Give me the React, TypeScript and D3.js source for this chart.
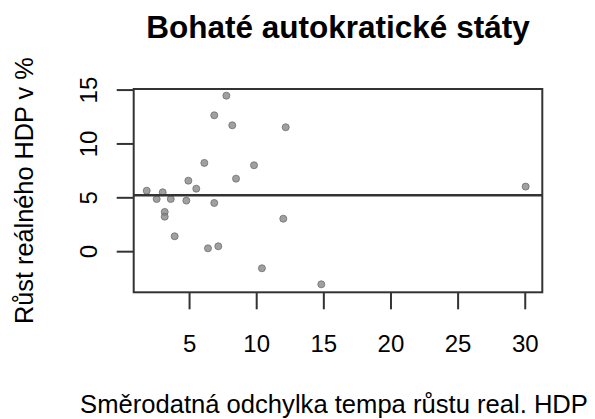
import React from "react";
import * as d3 from "d3";

const xValues = [1.81, 2.55, 3.0, 3.6, 3.15, 3.15, 3.89, 4.76, 4.91, 5.5, 6.1, 6.37, 6.84, 6.84, 7.14, 7.74, 8.18, 8.46, 9.8, 10.39, 11.98, 12.16, 14.81, 30.03];
const yValues = [5.66, 4.89, 5.51, 4.89, 3.69, 3.25, 1.43, 4.74, 6.59, 5.85, 8.24, 0.31, 12.66, 4.52, 0.5, 14.48, 11.73, 6.78, 8.02, -1.54, 3.06, 11.55, -3.03, 6.04];
const xTicks = [5, 10, 15, 20, 25, 30];
const yTicks = [0, 5, 10, 15];
const hLineValue = 5.24;
const xDomain = [0.84, 31.27];
const yDomain = [-3.77, 15.1];
const title = "Bohaté autokratické státy";
const xLabel = "Směrodatná odchylka tempa růstu real. HDP";
const yLabel = "Růst reálného HDP v %";

const W = 595, H = 419;
const L = 133.7, R = 542.3, T = 89, B = 292.3;

export default function App() {
  const x = d3.scaleLinear().domain(xDomain).range([L, R]);
  const y = d3.scaleLinear().domain(yDomain).range([B, T]);
  const font = "Liberation Sans, Arial, sans-serif";
  const pts = d3.zip(xValues, yValues);
  return (
    <svg width={W} height={H} style={{ position: "absolute", left: 0, top: 0, background: "#fff" }} fontFamily={font}>
      <text x={338} y={38} textAnchor="middle" fontWeight="bold" fontSize={31.5}>{title}</text>
      {pts.map(([a, b], i) => (
        <circle key={i} cx={x(a)} cy={y(b)} r={3.5} fill="rgba(128,128,128,0.75)" stroke="rgba(110,110,110,0.8)" strokeWidth={1} />
      ))}
      <line x1={L} x2={R} y1={y(hLineValue)} y2={y(hLineValue)} stroke="#333" strokeWidth={2.5} />
      <rect x={L} y={T} width={R - L} height={B - T} fill="none" stroke="#333" strokeWidth={2} />
      {xTicks.map((t) => (
        <g key={t}>
          <line x1={x(t)} x2={x(t)} y1={B} y2={B + 17} stroke="#333" strokeWidth={2} />
          <text x={x(t)} y={351.5} textAnchor="middle" fontSize={24}>{t}</text>
        </g>
      ))}
      {yTicks.map((t) => (
        <g key={t}>
          <line x1={L - 17} x2={L} y1={y(t)} y2={y(t)} stroke="#333" strokeWidth={2} />
          <text transform={`translate(97,${y(t)}) rotate(-90)`} textAnchor="middle" fontSize={24}>{t}</text>
        </g>
      ))}
      <text x={334} y={413} textAnchor="middle" fontSize={25.6}>{xLabel}</text>
      <text transform={`translate(33,${(T + B) / 2}) rotate(-90)`} textAnchor="middle" fontSize={25.3}>{yLabel}</text>
    </svg>
  );
}
